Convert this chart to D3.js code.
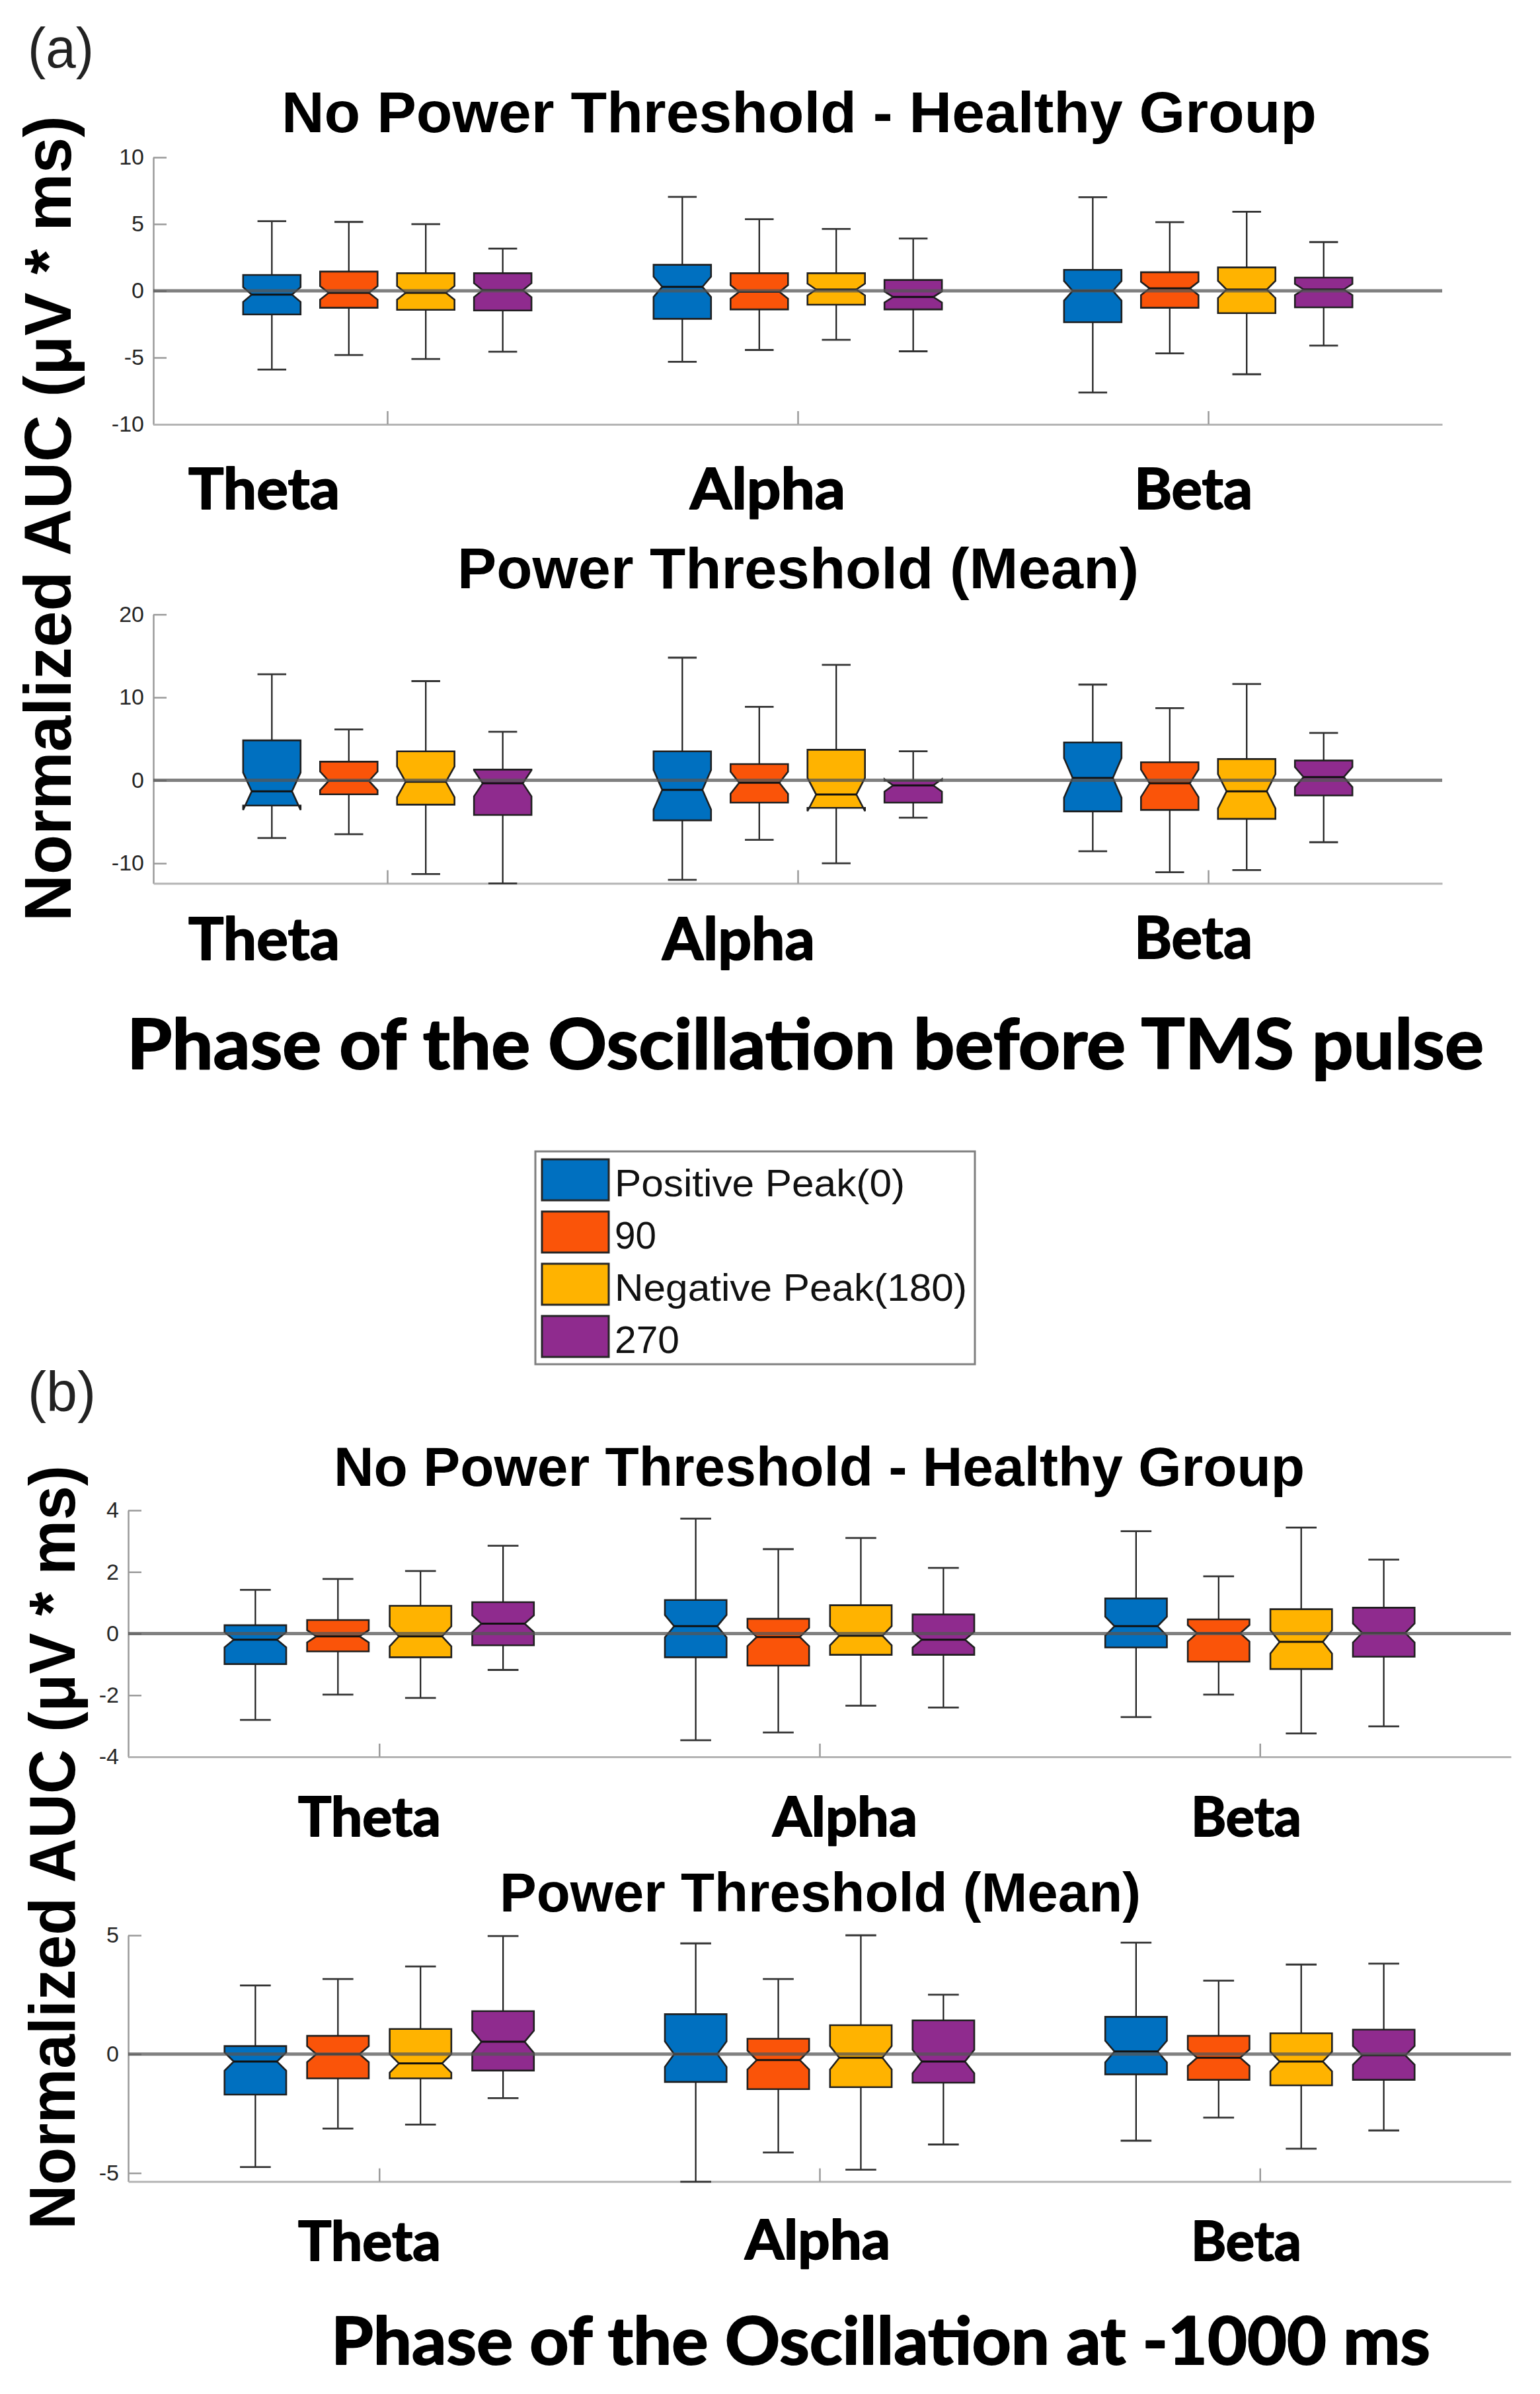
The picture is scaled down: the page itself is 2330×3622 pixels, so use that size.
<!DOCTYPE html>
<html><head><meta charset="utf-8">
<script src="https://cdn.jsdelivr.net/npm/d3@7/dist/d3.min.js"></script>
<style>body{margin:0;background:#fff} svg{display:block}</style>
</head><body><svg id="c" width="2330" height="3622"></svg>
<script>
// ---------------- DATA ----------------
const categories = ["Theta", "Alpha", "Beta"];
const phases = ["Positive Peak(0)", "90", "Negative Peak(180)", "270"];
const phaseColors = ["#0070C0", "#FA5409", "#FFB300", "#8F2B8E"];

// each row: [lower whisker, Q1, median, Q3, upper whisker], one row per phase
const a1Theta = [[-5.90,-1.77,-0.28,1.19,5.22],[-4.81,-1.27,-0.15,1.44,5.16],[-5.11,-1.42,-0.15,1.32,4.99],[-4.56,-1.47,0.05,1.32,3.16]];
const a1Alpha = [[-5.32,-2.10,0.30,1.95,7.04],[-4.43,-1.39,-0.08,1.32,5.37],[-3.67,-1.04,0.10,1.32,4.63],[-4.53,-1.39,-0.46,0.81,3.92]];
const a1Beta  = [[-7.62,-2.35,0.00,1.57,7.01],[-4.68,-1.27,0.18,1.39,5.14],[-6.25,-1.67,0.10,1.75,5.92],[-4.10,-1.24,0.10,0.99,3.65]];

const a2Theta = [[-6.96,-3.04,-1.32,4.82,12.79],[-6.50,-1.68,-0.07,2.25,6.14],[-11.29,-2.93,-0.18,3.50,11.96],[-12.43,-4.18,-0.36,1.29,5.86]];
const a2Alpha = [[-12.00,-4.82,-1.14,3.50,14.79],[-7.18,-2.68,-0.29,1.96,8.86],[-10.00,-3.32,-1.71,3.68,13.93],[-4.50,-2.68,-0.61,-0.04,3.50]];
const a2Beta  = [[-8.54,-3.75,0.29,4.57,11.54],[-11.07,-3.57,-0.36,2.18,8.71],[-10.82,-4.64,-1.32,2.57,11.61],[-7.46,-1.82,0.39,2.39,5.71]];

const b1Theta = [[-2.80,-0.99,-0.20,0.27,1.42],[-1.98,-0.58,-0.09,0.44,1.77],[-2.09,-0.77,-0.09,0.90,2.03],[-1.18,-0.38,0.32,1.02,2.85]];
const b1Alpha = [[-3.46,-0.77,0.24,1.09,3.73],[-3.21,-1.04,-0.11,0.48,2.74],[-2.34,-0.69,-0.07,0.92,3.10],[-2.40,-0.69,-0.20,0.62,2.13]];
const b1Beta  = [[-2.71,-0.45,0.24,1.14,3.32],[-1.98,-0.91,0.01,0.46,1.86],[-3.24,-1.15,-0.27,0.79,3.44],[-3.01,-0.75,0.02,0.84,2.40]];

const b2Theta = [[-4.75,-1.70,-0.31,0.34,2.89],[-3.13,-1.02,0.00,0.77,3.16],[-2.96,-1.02,-0.39,1.06,3.69],[-1.85,-0.69,0.52,1.81,4.97]];
const b2Alpha = [[-5.37,-1.17,0.00,1.68,4.66],[-4.14,-1.47,-0.25,0.65,3.16],[-4.86,-1.39,-0.15,1.22,5.00],[-3.80,-1.20,-0.31,1.42,2.50]];
const b2Beta  = [[-3.64,-0.85,0.11,1.57,4.69],[-2.67,-1.08,-0.15,0.77,3.09],[-3.98,-1.31,-0.31,0.88,3.77],[-3.21,-1.08,-0.05,1.03,3.81]];

// estimated number of trials per panel (controls notch size)
const trialCounts = [70, 30, 65, 70];

const a1TicksY = [-10, -5, 0, 5, 10];
const a2TicksY = [-10, 0, 10, 20];
const b1TicksY = [-4, -2, 0, 2, 4];
const b2TicksY = [-5, 0, 5];
const a1YLim = [-10, 10];
const a2YLim = [-12.43, 20];
const b1YLim = [-4, 4];
const b2YLim = [-5.36, 5];
const xLim = [0.43, 3.57];
const phaseOffsets = [-0.28125, -0.09375, 0.09375, 0.28125];
const titleTop = "No Power Threshold - Healthy Group";
const titleBottom = "Power Threshold (Mean)";
const yLabel = "Normalized AUC (\u03BCV * ms)";
const xTitleA = "Phase of the Oscillation before TMS pulse";
const xTitleB = "Phase of the Oscillation at -1000 ms";

// ---------------- LAYOUT ----------------
const svg = d3.select("#c");
svg.append("rect").attr("width", 2330).attr("height", 3622).attr("fill", "#fff");

const SANS = "'Liberation Sans', Arial, Helvetica, sans-serif";
const CAL = "Lato, 'Open Sans', sans-serif";

function fitText(g, str, x, y, w, size, family, weight, fill, strokeW) {
  const t = g.append("text").attr("x", x).attr("y", y)
    .attr("font-family", family).attr("font-size", size).attr("font-weight", weight)
    .attr("fill", fill || "#000")
    .attr("textLength", w).attr("lengthAdjust", "spacingAndGlyphs")
    .text(str);
  if (strokeW) t.attr("stroke", fill || "#000").attr("stroke-width", strokeW).attr("stroke-linejoin", "round");
  return t;
}

const panels = [
  { data: [a1Theta, a1Alpha, a1Beta], ylim: a1YLim, yr: [642, 238], xr: [232, 2182], ticks: a1TicksY, n: trialCounts[0],
    title: titleTop, tb: [426, 200, 1566, 87],
    labels: [[285, 229], [1044, 235], [1716, 179]], lb: [770, 770, 770], ls: 86 },
  { data: [a2Theta, a2Alpha, a2Beta], ylim: a2YLim, yr: [1336.6, 929.6], xr: [232, 2182], ticks: a2TicksY, n: trialCounts[1],
    title: titleBottom, tb: [692, 890, 1031, 87],
    labels: [[285, 229], [1002, 231], [1716, 179]], lb: [1452, 1452, 1450], ls: 88 },
  { data: [b1Theta, b1Alpha, b1Beta], ylim: b1YLim, yr: [2658, 2285], xr: [194, 2286], ticks: b1TicksY, n: trialCounts[2],
    title: titleTop, tb: [505, 2248, 1469, 84],
    labels: [[451, 216], [1169, 219], [1802, 167]], lb: [2778, 2778, 2778], ls: 82 },
  { data: [b2Theta, b2Alpha, b2Beta], ylim: b2YLim, yr: [3300.6, 2928], xr: [194, 2286], ticks: b2TicksY, n: trialCounts[3],
    title: titleBottom, tb: [756, 2892, 970, 83],
    labels: [[451, 216], [1127, 220], [1802, 167]], lb: [3420, 3418, 3420], ls: 82 }
];

panels.forEach(p => {
  const g = svg.append("g");
  const x = d3.scaleLinear().domain(xLim).range(p.xr);
  const y = d3.scaleLinear().domain(p.ylim).range(p.yr);

  // axes
  const ya = g.append("g").attr("transform", `translate(${p.xr[0]},0)`)
    .call(d3.axisLeft(y).tickValues(p.ticks).tickSize(-20).tickSizeOuter(0).tickPadding(14).tickFormat(d3.format("d")));
  ya.select(".domain").attr("stroke", "#9a9a9a").attr("stroke-width", 2.5);
  ya.selectAll(".tick line").attr("stroke", "#9a9a9a").attr("stroke-width", 2.5);
  ya.selectAll(".tick text").attr("font-family", SANS).attr("font-size", 34).attr("fill", "#262626")
    .text(d => String(d).replace("\u2212", "-"));

  const xa = g.append("g").attr("transform", `translate(0,${p.yr[0]})`)
    .call(d3.axisBottom(x).tickValues([1, 2, 3]).tickSize(-20).tickSizeOuter(0).tickFormat(""));
  xa.select(".domain").attr("stroke", "#b4b4b4").attr("stroke-width", 3);
  xa.selectAll(".tick line").attr("stroke", "#9a9a9a").attr("stroke-width", 2.5);

  const half = (x(1.07) - x(1));
  const inset = half * 2 * 0.15;

  p.data.forEach((cat, ci) => {
    cat.forEach((s, pi) => {
      const [lo, q1, med, q3, hi] = s;
      const xc = x(ci + 1 + phaseOffsets[pi]);
      const nh = 1.57 * (q3 - q1) / Math.sqrt(p.n);
      const yTop = y(q3), yBot = y(q1), yMed = y(med), yNt = y(med + nh), yNb = y(med - nh);
      // whiskers
      g.append("line").attr("x1", xc).attr("x2", xc).attr("y1", yTop).attr("y2", y(hi))
        .attr("stroke", "#1a1a1a").attr("stroke-width", 2.2);
      g.append("line").attr("x1", xc).attr("x2", xc).attr("y1", yBot).attr("y2", y(lo))
        .attr("stroke", "#1a1a1a").attr("stroke-width", 2.2);
      [hi, lo].forEach(v => g.append("line").attr("x1", xc - half / 2).attr("x2", xc + half / 2)
        .attr("y1", y(v)).attr("y2", y(v)).attr("stroke", "#333").attr("stroke-width", 2.8));
      // notched box
      const pts = [[xc - half, yTop], [xc + half, yTop], [xc + half, yNt], [xc + half - inset, yMed], [xc + half, yNb],
        [xc + half, yBot], [xc - half, yBot], [xc - half, yNb], [xc - half + inset, yMed], [xc - half, yNt]];
      g.append("path").attr("d", d3.line()(pts) + "Z")
        .attr("fill", phaseColors[pi]).attr("stroke", "#1f1f1f").attr("stroke-width", 2.6).attr("stroke-linejoin", "miter");
      g.append("line").attr("x1", xc - half + inset).attr("x2", xc + half - inset).attr("y1", yMed).attr("y2", yMed)
        .attr("stroke", "#111").attr("stroke-width", 3);
    });
  });

  // zero reference line
  g.append("line").attr("x1", p.xr[0]).attr("x2", p.xr[1]).attr("y1", y(0)).attr("y2", y(0))
    .attr("stroke", "#555").attr("stroke-opacity", 0.75).attr("stroke-width", 5);

  // title
  fitText(g, p.title, p.tb[0], p.tb[1], p.tb[2], p.tb[3], SANS, 700);
  // category labels
  categories.forEach((c, i) => fitText(g, c, p.labels[i][0], p.lb[i], p.labels[i][1], p.ls, CAL, 700, "#000", 2));
});

// y axis labels (rotated)
svg.append("text").attr("transform", "translate(107,784.5) rotate(-90)").attr("text-anchor", "middle")
  .attr("font-family", SANS).attr("font-weight", 700).attr("font-size", 100)
  .attr("textLength", 1219).attr("lengthAdjust", "spacingAndGlyphs").text(yLabel);
svg.append("text").attr("transform", "translate(113,2795) rotate(-90)").attr("text-anchor", "middle")
  .attr("font-family", SANS).attr("font-weight", 700).attr("font-size", 98)
  .attr("textLength", 1156).attr("lengthAdjust", "spacingAndGlyphs").text(yLabel);

// panel letters
fitText(svg, "(a)", 42, 102, 100, 86, SANS, 400, "#222");
fitText(svg, "(b)", 42, 2135, 103, 86, SANS, 400, "#222");

// x titles
fitText(svg, xTitleA, 192, 1617, 2053, 105, CAL, 700, "#000", 2);
fitText(svg, xTitleB, 501, 3577, 1663, 99, CAL, 700, "#000", 2);

// legend
const lg = svg.append("g");
lg.append("rect").attr("x", 810).attr("y", 1742).attr("width", 665).attr("height", 322)
  .attr("fill", "#fff").attr("stroke", "#7f7f7f").attr("stroke-width", 3);
const legendW = [439, 63, 533, 98];
phases.forEach((ph, i) => {
  const top = 1754 + i * 79;
  lg.append("rect").attr("x", 820).attr("y", top).attr("width", 101).attr("height", 62)
    .attr("fill", phaseColors[i]).attr("stroke", "#262626").attr("stroke-width", 3);
  fitText(lg, ph, 930, top + 56, legendW[i], 58, SANS, 400, "#111");
});
</script></body></html>
